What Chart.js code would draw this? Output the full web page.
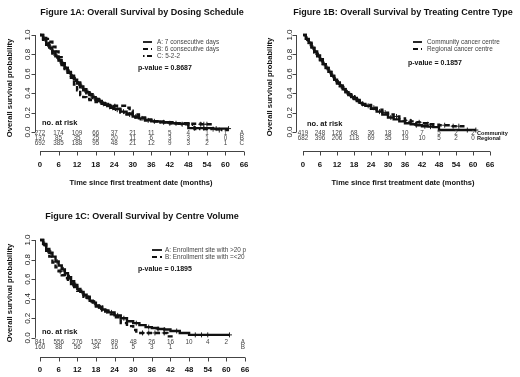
<!DOCTYPE html>
<html>
<head>
<meta charset="utf-8">
<script src="https://cdn.jsdelivr.net/npm/chart.js@4.4.1/dist/chart.umd.min.js"></script>
<style>
  body { margin: 0; background: #fff; width: 520px; height: 377px; overflow: hidden; position: relative; }
  canvas { position: absolute; }
</style>
</head>
<body>
<canvas id="figA" width="260" height="190" style="left:0;top:0"></canvas>
<canvas id="figB" width="260" height="190" style="left:260px;top:0"></canvas>
<canvas id="figC" width="260" height="187" style="left:0;top:190px"></canvas>
<script>
// eixos
const xTicks = [0, 6, 12, 18, 24, 30, 36, 42, 48, 54, 60, 66];
const yTicks = [0, 0.2, 0.4, 0.6, 0.8, 1.0];
const yTickLabels = ['0.0', '0.2', '0.4', '0.6', '0.8', '1.0'];
const riskTimes = [0, 6, 12, 18, 24, 30, 36, 42, 48, 54, 60];

// Figure 1A - dosing schedule
const tA_A = [0,1,2,3,4,5,6,7,8,9,10,11,12,13,14,15,16,17,18,19,20,21,22,23,24,26,28,30,32,34,36,39,42,45,48,52,56,61];
const sA_A = [1,0.96,0.91,0.87,0.83,0.78,0.74,0.70,0.66,0.62,0.58,0.54,0.51,0.47,0.44,0.41,0.39,0.36,0.34,0.32,0.30,0.28,0.27,0.25,0.24,0.21,0.19,0.16,0.14,0.12,0.11,0.10,0.09,0.085,0.04,0.04,0.035,0.035];
const tA_B = [0,1,2,3,4,5,6,7,8,9,10,11,12,13,14,15,16,18,20,22,24,26,28,29,30,32,34,36,40,44,48,52,56];
const sA_B = [1,0.99,0.96,0.93,0.88,0.83,0.77,0.71,0.66,0.61,0.56,0.49,0.43,0.38,0.36,0.34,0.33,0.31,0.29,0.28,0.27,0.27,0.25,0.22,0.18,0.15,0.13,0.11,0.10,0.09,0.085,0.08,0.08];
const tA_C = [0,1,2,3,4,5,6,7,8,9,10,11,12,13,14,15,16,17,18,19,20,21,22,23,24,26,28,30,32,34,36,39,42,45,48,50,54,58,61];
const sA_C = [1,0.95,0.90,0.86,0.81,0.77,0.73,0.69,0.65,0.61,0.57,0.53,0.50,0.46,0.43,0.40,0.38,0.35,0.33,0.31,0.29,0.27,0.26,0.25,0.23,0.20,0.18,0.15,0.13,0.12,0.11,0.10,0.09,0.08,0.075,0.03,0.03,0.02,0.02];
const cA_A = [1.5, 3.5, 5.5, 7.5, 9.5, 11.5, 13.5, 15.5, 17.5, 19.5, 21.5, 23.5, 27, 31, 33, 37, 40, 44, 50, 53, 57, 61];
const cA_B = [52, 53, 54];
const cA_C = [2.5, 4.5, 6.5, 8.5, 10.5, 12.5, 14.5, 16.5, 18.5, 20.5, 22.5, 25, 29, 35, 42, 46, 56, 58];
const riskA_A = [272, 174, 109, 66, 37, 21, 11, 5, 4, 1, 1];
const riskA_B = [137, 85, 35, 25, 20, 11, 6, 3, 3, 1, 0];
const riskA_C = [692, 385, 188, 95, 48, 21, 12, 9, 3, 2, 1];

// Figure 1B - treating centre type
const tB_C = [0,1,2,3,4,5,6,7,8,9,10,11,12,13,14,15,16,17,18,19,20,21,22,24,26,28,30,32,34,36,38,40,42,44,46,48,54,58,61];
const sB_C = [1,0.96,0.92,0.87,0.83,0.79,0.75,0.70,0.66,0.62,0.58,0.54,0.50,0.47,0.44,0.41,0.38,0.36,0.34,0.32,0.30,0.28,0.27,0.24,0.21,0.18,0.15,0.13,0.11,0.09,0.08,0.07,0.06,0.055,0.05,0.02,0.02,0.02,0.02];
const tB_R = [0,1,2,3,4,5,6,7,8,9,10,11,12,13,14,15,16,17,18,19,20,21,22,24,26,28,30,32,34,36,38,40,42,44,46,48,52,57];
const sB_R = [1,0.95,0.91,0.86,0.82,0.78,0.74,0.70,0.66,0.62,0.58,0.54,0.51,0.48,0.45,0.42,0.39,0.37,0.35,0.33,0.31,0.29,0.28,0.25,0.23,0.20,0.18,0.16,0.14,0.12,0.11,0.10,0.09,0.08,0.075,0.07,0.06,0.06];
const cB_C = [1.5, 3.5, 5.5, 7.5, 9.5, 11.5, 13.5, 15.5, 17.5, 19.5, 23, 27, 31, 40, 43, 45, 58, 61];
const cB_R = [2.5, 4.5, 6.5, 8.5, 10.5, 12.5, 14.5, 16.5, 18.5, 21, 25, 29, 33, 36, 38, 41, 44, 50, 53, 55];
const riskB_C = [419, 248, 126, 68, 36, 18, 10, 7, 5, 2, 2];
const riskB_R = [682, 396, 206, 118, 69, 35, 19, 10, 5, 2, 0];

// Figure 1C - centre volume
const tC_A = [0,1,2,3,4,5,6,7,8,9,10,11,12,13,14,15,16,17,18,19,20,21,22,24,26,28,30,32,34,36,38,40,42,45,48,52,56,61];
const sC_A = [1,0.96,0.91,0.87,0.83,0.78,0.74,0.70,0.66,0.62,0.58,0.54,0.50,0.47,0.44,0.41,0.38,0.36,0.33,0.31,0.29,0.27,0.26,0.23,0.20,0.17,0.15,0.13,0.11,0.10,0.09,0.085,0.07,0.05,0.03,0.03,0.03,0.03];
const tC_B = [0,1,2,3,4,5,6,7,8,9,10,11,12,14,16,18,20,22,24,26,28,30,31,34,38,41,43];
const sC_B = [1,0.95,0.89,0.83,0.77,0.72,0.68,0.64,0.61,0.58,0.55,0.52,0.48,0.42,0.37,0.32,0.28,0.24,0.21,0.15,0.12,0.08,0.05,0.05,0.05,0.015,0.015];
const cC_A = [1.5, 3.5, 5.5, 7.5, 9.5, 11.5, 13.5, 15.5, 17.5, 19.5, 21.5, 23, 25, 27, 31, 35, 38, 40, 44, 50, 52, 54, 61];
const cC_B = [2.5, 6.5, 10.5, 15, 19, 33, 35, 37, 40];
const riskC_A = [841, 556, 276, 152, 89, 48, 26, 16, 10, 4, 2];
const riskC_B = [160, 88, 56, 34, 16, 5, 3, 1];

const FONT = '"Liberation Sans", Arial, sans-serif';
const SOLID = [];
const DASH = [5, 3];
const DOTDASH = [1.5, 2.5, 5, 2.5];

function stepValue(times, surv, t) {
    let v = surv[0];
    for (let i = 0; i < times.length; i++) {
        if (times[i] <= t) v = surv[i];
    }
    return v;
}

function lineSet(label, times, surv, dash) {
    return {
        label: label,
        data: times.map((t, i) => ({ x: t, y: surv[i] })),
        stepped: true,
        borderColor: '#111',
        borderWidth: 2.4,
        borderDash: dash,
        pointRadius: 0,
        fill: false
    };
}

function censorSet(times, surv, cens) {
    return {
        type: 'scatter',
        data: cens.map((t) => ({ x: t, y: stepValue(times, surv, t) })),
        pointStyle: 'cross',
        pointRadius: 2.5,
        borderColor: '#222',
        borderWidth: 1,
        showLine: false
    };
}

// desenha eixos estilo R, tabela de risco, legenda, titulos
const decor = {
    id: 'decor',
    afterDraw(chart, args, o) {
        const ctx = chart.ctx;
        const x = chart.scales.x;
        const y = chart.scales.y;
        const a = chart.chartArea;
        ctx.save();
        ctx.fillStyle = '#111';
        ctx.strokeStyle = '#444';
        ctx.lineWidth = 1;

        ctx.font = 'bold 9px ' + FONT;
        ctx.textAlign = 'center';
        ctx.textBaseline = 'middle';
        ctx.fillText(o.title, o.titleX, o.titleY);

        // eixo y
        const ax = o.yAxisX + 0.5;
        ctx.beginPath();
        ctx.moveTo(ax, y.getPixelForValue(0));
        ctx.lineTo(ax, y.getPixelForValue(1));
        yTicks.forEach((v) => {
            const py = Math.round(y.getPixelForValue(v)) + 0.5;
            ctx.moveTo(ax, py);
            ctx.lineTo(ax - 4, py);
        });
        ctx.stroke();
        ctx.font = '8px ' + FONT;
        ctx.fillStyle = '#222';
        yTicks.forEach((v, i) => {
            ctx.save();
            ctx.translate(o.yLabelX, y.getPixelForValue(v));
            ctx.rotate(-Math.PI / 2);
            ctx.fillText(yTickLabels[i], 0, 0);
            ctx.restore();
        });
        ctx.fillStyle = '#111';
        ctx.font = 'bold 7.7px ' + FONT;
        ctx.save();
        ctx.translate(o.yTitleX, o.yTitleY);
        ctx.rotate(-Math.PI / 2);
        ctx.fillText('Overall survival probability', 0, 0);
        ctx.restore();

        // eixo x
        const by = Math.round(a.bottom) + 0.5;
        ctx.beginPath();
        ctx.moveTo(x.getPixelForValue(0), by);
        ctx.lineTo(x.getPixelForValue(66), by);
        xTicks.forEach((v) => {
            const px = Math.round(x.getPixelForValue(v)) + 0.5;
            ctx.moveTo(px, by);
            ctx.lineTo(px, by + 4);
        });
        ctx.stroke();
        ctx.font = 'bold 7.8px ' + FONT;
        xTicks.forEach((v) => {
            ctx.fillText(String(v), x.getPixelForValue(v), o.xLabelY);
        });
        if (o.xTitle) {
            ctx.font = 'bold 7.5px ' + FONT;
            ctx.fillText(o.xTitle, o.xTitleX, o.xTitleY);
        }

        // legenda
        o.legend.forEach((item, i) => {
            const ly = o.legendY[i];
            ctx.save();
            ctx.strokeStyle = '#111';
            ctx.lineWidth = 1.8;
            ctx.setLineDash(item.dash);
            ctx.beginPath();
            ctx.moveTo(o.legendLine[0], ly);
            ctx.lineTo(o.legendLine[1], ly);
            ctx.stroke();
            ctx.restore();
            ctx.font = '6.4px ' + FONT;
            ctx.fillStyle = '#444';
            ctx.textAlign = 'left';
            ctx.fillText(item.text, o.legendText, ly);
        });
        ctx.fillStyle = '#111';
        ctx.textAlign = 'left';
        ctx.font = 'bold 7px ' + FONT;
        ctx.fillText(o.pval, o.pvalX, o.pvalY);

        // tabela de risco
        ctx.font = 'bold 7.5px ' + FONT;
        ctx.fillText('no. at risk', o.noRiskX, o.noRiskY);
        ctx.textAlign = 'center';
        o.risk.forEach((row, i) => {
            const ry = o.riskY[i];
            ctx.font = '6.3px ' + FONT;
            ctx.fillStyle = '#444';
            row.values.forEach((n, j) => {
                ctx.fillText(String(n), x.getPixelForValue(riskTimes[j]), ry);
            });
            if (o.riskNameLeft) {
                ctx.textAlign = 'left';
                ctx.font = 'bold 5.6px ' + FONT;
                ctx.fillStyle = '#111';
                ctx.fillText(row.name, x.getPixelForValue(60) + 4, ry);
                ctx.textAlign = 'center';
            } else {
                ctx.fillText(row.name, x.getPixelForValue(65.3), ry);
            }
        });
        ctx.restore();
    }
};

function plotarKM(id, datasets, pad, decorOpts) {
    new Chart(document.getElementById(id), {
        type: 'line',
        data: { datasets: datasets },
        options: {
            responsive: false,
            animation: false,
            layout: { padding: pad },
            scales: {
                x: { type: 'linear', min: 0, max: 66, display: false },
                y: { type: 'linear', min: -0.2, max: 1.05, display: false }
            },
            plugins: {
                legend: { display: false },
                tooltip: { enabled: false },
                decor: decorOpts
            }
        },
        plugins: [decor]
    });
}

plotarKM('figA', [
    lineSet('A', tA_A, sA_A, SOLID),
    lineSet('B', tA_B, sA_B, DASH),
    lineSet('C', tA_C, sA_C, DOTDASH),
    censorSet(tA_A, sA_A, cA_A),
    censorSet(tA_B, sA_B, cA_B),
    censorSet(tA_C, sA_C, cA_C)
], { left: 40, right: 16, top: 30.15, bottom: 38.6 }, {
    title: 'Figure 1A: Overall Survival by Dosing Schedule', titleX: 142, titleY: 13,
    yAxisX: 35, yLabelX: 28, yTitleX: 10, yTitleY: 88,
    xLabelY: 165, xTitle: 'Time since first treatment date (months)', xTitleX: 141, xTitleY: 183,
    legend: [
        { text: 'A: 7 consecutive days', dash: SOLID },
        { text: 'B: 6 consecutive days', dash: DASH },
        { text: 'C: 5-2-2', dash: DOTDASH }
    ],
    legendY: [42, 49, 56], legendLine: [143, 152], legendText: 157,
    pval: 'p-value = 0.8687', pvalX: 138, pvalY: 68,
    noRiskX: 42, noRiskY: 123,
    risk: [
        { name: 'A', values: riskA_A },
        { name: 'B', values: riskA_B },
        { name: 'C', values: riskA_C }
    ],
    riskY: [133, 138, 143]
});

plotarKM('figB', [
    lineSet('Community', tB_C, sB_C, SOLID),
    lineSet('Regional', tB_R, sB_R, DASH),
    censorSet(tB_C, sB_C, cB_C),
    censorSet(tB_R, sB_R, cB_R)
], { left: 43, right: 30, top: 30.15, bottom: 38.6 }, {
    title: 'Figure 1B: Overall Survival by Treating Centre Type', titleX: 143, titleY: 13,
    yAxisX: 36, yLabelX: 30, yTitleX: 10, yTitleY: 87,
    xLabelY: 165, xTitle: 'Time since first treatment date (months)', xTitleX: 143, xTitleY: 183,
    legend: [
        { text: 'Community cancer centre', dash: SOLID },
        { text: 'Regional cancer centre', dash: DASH }
    ],
    legendY: [42, 49], legendLine: [153, 162], legendText: 167,
    pval: 'p-value = 0.1857', pvalX: 148, pvalY: 63,
    noRiskX: 47, noRiskY: 124,
    risk: [
        { name: 'Community', values: riskB_C },
        { name: 'Regional', values: riskB_R }
    ],
    riskY: [133, 138],
    riskNameLeft: true
});

plotarKM('figC', [
    lineSet('A', tC_A, sC_A, SOLID),
    lineSet('B', tC_B, sC_B, DASH),
    censorSet(tC_A, sC_A, cC_A),
    censorSet(tC_B, sC_B, cC_B)
], { left: 40, right: 15, top: 45.15, bottom: 19.6 }, {
    title: 'Figure 1C: Overall Survival by Centre Volume', titleX: 142, titleY: 27,
    yAxisX: 35, yLabelX: 28, yTitleX: 10, yTitleY: 103,
    xLabelY: 180, xTitle: null,
    legend: [
        { text: 'A: Enrollment site with >20 p', dash: SOLID },
        { text: 'B: Enrollment site with =<20', dash: DASH }
    ],
    legendY: [60, 67], legendLine: [152, 162], legendText: 165,
    pval: 'p-value = 0.1895', pvalX: 138, pvalY: 79,
    noRiskX: 42, noRiskY: 142,
    risk: [
        { name: 'A', values: riskC_A },
        { name: 'B', values: riskC_B }
    ],
    riskY: [152.5, 157.5]
});
</script>
</body>
</html>
